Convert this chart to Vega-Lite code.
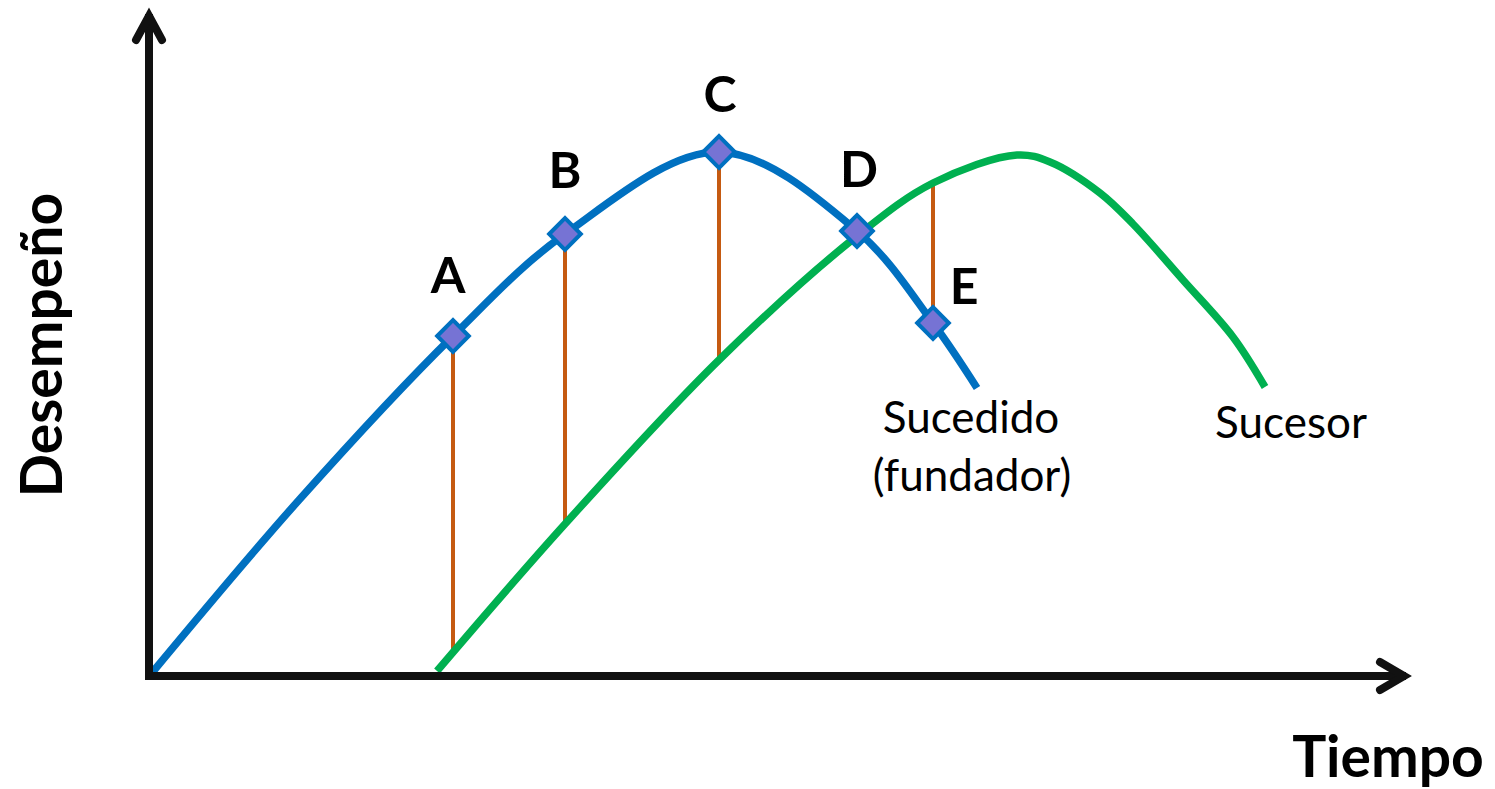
{
  "$schema": "https://vega.github.io/schema/vega-lite/v6.json",
  "width": 1495,
  "height": 789,
  "autosize": {"type": "none"},
  "padding": 0,
  "background": "white",
  "config": {"view": {"stroke": null}},
  "datasets": {
    "curves": [
      {"s": "Sucedido", "t": 0.02, "p": 0.02},
      {"s": "Sucedido", "t": 1.5, "p": 1.76},
      {"s": "Sucedido", "t": 3.04, "p": 3.40},
      {"s": "Sucedido", "t": 4.16, "p": 4.42},
      {"s": "Sucedido", "t": 5.70, "p": 5.24},
      {"s": "Sucedido", "t": 7.08, "p": 4.45},
      {"s": "Sucedido", "t": 7.84, "p": 3.53},
      {"s": "Sucedido", "t": 8.28, "p": 2.88},
      {"s": "Sucesor", "t": 2.88, "p": 0.05},
      {"s": "Sucesor", "t": 4.16, "p": 1.52},
      {"s": "Sucesor", "t": 5.70, "p": 3.16},
      {"s": "Sucesor", "t": 7.08, "p": 4.40},
      {"s": "Sucesor", "t": 7.84, "p": 4.93},
      {"s": "Sucesor", "t": 8.68, "p": 5.21},
      {"s": "Sucesor", "t": 9.01, "p": 5.14},
      {"s": "Sucesor", "t": 9.51, "p": 4.83},
      {"s": "Sucesor", "t": 9.84, "p": 4.52},
      {"s": "Sucesor", "t": 10.34, "p": 3.96},
      {"s": "Sucesor", "t": 10.84, "p": 3.39},
      {"s": "Sucesor", "t": 11.16, "p": 2.89}
    ],
    "links": [
      {"k": "A", "t": 3.04, "p": 3.40, "p2": 0.22},
      {"k": "B", "t": 4.16, "p": 4.42, "p2": 1.52},
      {"k": "C", "t": 5.70, "p": 5.24, "p2": 3.16},
      {"k": "E", "t": 7.84, "p": 3.53, "p2": 4.93}
    ],
    "points": [
      {"k": "A", "t": 3.04, "p": 3.40},
      {"k": "B", "t": 4.16, "p": 4.42},
      {"k": "C", "t": 5.70, "p": 5.24},
      {"k": "D", "t": 7.08, "p": 4.45},
      {"k": "E", "t": 7.84, "p": 3.53}
    ],
    "shafts": [
      {"seg": "v", "o": 1, "t": 0, "p": 0},
      {"seg": "v", "o": 2, "t": 0, "p": 6.58},
      {"seg": "h", "o": 1, "t": 0, "p": 0},
      {"seg": "h", "o": 2, "t": 12.53, "p": 0}
    ],
    "heads": [
      {"seg": "va", "o": 1, "t": -0.13, "p": 6.36},
      {"seg": "va", "o": 2, "t": 0, "p": 6.60},
      {"seg": "va", "o": 3, "t": 0.13, "p": 6.36},
      {"seg": "ha", "o": 1, "t": 12.31, "p": 0.14},
      {"seg": "ha", "o": 2, "t": 12.55, "p": 0},
      {"seg": "ha", "o": 3, "t": 12.31, "p": -0.14}
    ],
    "labels": [
      {"kind": "point", "text": "A", "t": 2.99, "p": 3.83},
      {"kind": "point", "text": "B", "t": 4.16, "p": 4.88},
      {"kind": "point", "text": "C", "t": 5.71, "p": 5.64},
      {"kind": "point", "text": "D", "t": 7.10, "p": 4.89},
      {"kind": "point", "text": "E", "t": 8.15, "p": 3.72},
      {"kind": "curve", "text": "Sucedido", "t": 8.22, "p": 2.43},
      {"kind": "curve", "text": "(fundador)", "t": 8.23, "p": 1.85},
      {"kind": "curve", "text": "Sucesor", "t": 11.42, "p": 2.38},
      {"kind": "xtitle", "text": "Tiempo", "t": 12.39, "p": -1.01},
      {"kind": "ytitle", "text": "Desempeño", "t": -0.87, "p": 3.31}
    ]
  },
  "layer": [
    {
      "data": {"name": "links"},
      "mark": {"type": "rule", "color": "#C55A11", "strokeWidth": 4},
      "encoding": {
        "x": {"field": "t", "type": "quantitative", "scale": {"domain": [-1.49, 13.46], "nice": false, "zero": false}, "axis": null},
        "y": {"field": "p", "type": "quantitative", "scale": {"domain": [-1.13, 6.76], "nice": false, "zero": false}, "axis": null},
        "y2": {"field": "p2"}
      }
    },
    {
      "data": {"name": "curves"},
      "mark": {"type": "line", "strokeWidth": 7.5, "interpolate": "catmull-rom"},
      "encoding": {
        "x": {"field": "t", "type": "quantitative", "axis": null},
        "y": {"field": "p", "type": "quantitative", "axis": null},
        "color": {"field": "s", "type": "nominal", "scale": {"domain": ["Sucesor", "Sucedido"], "range": ["#00B050", "#0070C0"]}, "legend": null},
        "order": {"field": "t", "type": "quantitative"}
      }
    },
    {
      "data": {"name": "shafts"},
      "mark": {"type": "line", "color": "#111111", "strokeWidth": 8, "strokeCap": "square"},
      "encoding": {
        "x": {"field": "t", "type": "quantitative", "axis": null},
        "y": {"field": "p", "type": "quantitative", "axis": null},
        "detail": {"field": "seg", "type": "nominal"},
        "order": {"field": "o", "type": "quantitative"}
      }
    },
    {
      "data": {"name": "heads"},
      "mark": {"type": "line", "color": "#111111", "strokeWidth": 8, "strokeCap": "round", "strokeJoin": "miter"},
      "encoding": {
        "x": {"field": "t", "type": "quantitative", "axis": null},
        "y": {"field": "p", "type": "quantitative", "axis": null},
        "detail": {"field": "seg", "type": "nominal"},
        "order": {"field": "o", "type": "quantitative"}
      }
    },
    {
      "data": {"name": "points"},
      "mark": {"type": "point", "shape": "diamond", "filled": true, "fill": "#7673D4", "stroke": "#0070C0", "strokeWidth": 4, "size": 1000, "opacity": 1},
      "encoding": {
        "x": {"field": "t", "type": "quantitative", "axis": null},
        "y": {"field": "p", "type": "quantitative", "axis": null}
      }
    },
    {
      "data": {"name": "labels"},
      "transform": [{"filter": "datum.kind === 'point'"}],
      "mark": {"type": "text", "font": "Lato", "fontWeight": "bold", "fontSize": 50, "align": "center", "baseline": "alphabetic", "color": "#000000"},
      "encoding": {
        "x": {"field": "t", "type": "quantitative", "axis": null},
        "y": {"field": "p", "type": "quantitative", "axis": null},
        "text": {"field": "text"}
      }
    },
    {
      "data": {"name": "labels"},
      "transform": [{"filter": "datum.kind === 'curve'"}],
      "mark": {"type": "text", "font": "Lato", "fontSize": 44, "align": "center", "baseline": "alphabetic", "color": "#000000"},
      "encoding": {
        "x": {"field": "t", "type": "quantitative", "axis": null},
        "y": {"field": "p", "type": "quantitative", "axis": null},
        "text": {"field": "text"}
      }
    },
    {
      "data": {"name": "labels"},
      "transform": [{"filter": "datum.kind === 'xtitle'"}],
      "mark": {"type": "text", "font": "Lato", "fontWeight": "bold", "fontSize": 57, "align": "center", "baseline": "alphabetic", "color": "#000000"},
      "encoding": {
        "x": {"field": "t", "type": "quantitative", "axis": null},
        "y": {"field": "p", "type": "quantitative", "axis": null},
        "text": {"field": "text"}
      }
    },
    {
      "data": {"name": "labels"},
      "transform": [{"filter": "datum.kind === 'ytitle'"}],
      "mark": {"type": "text", "font": "Lato", "fontWeight": "bold", "fontSize": 57, "align": "center", "baseline": "alphabetic", "angle": 270, "color": "#000000"},
      "encoding": {
        "x": {"field": "t", "type": "quantitative", "axis": null},
        "y": {"field": "p", "type": "quantitative", "axis": null},
        "text": {"field": "text"}
      }
    }
  ]
}
